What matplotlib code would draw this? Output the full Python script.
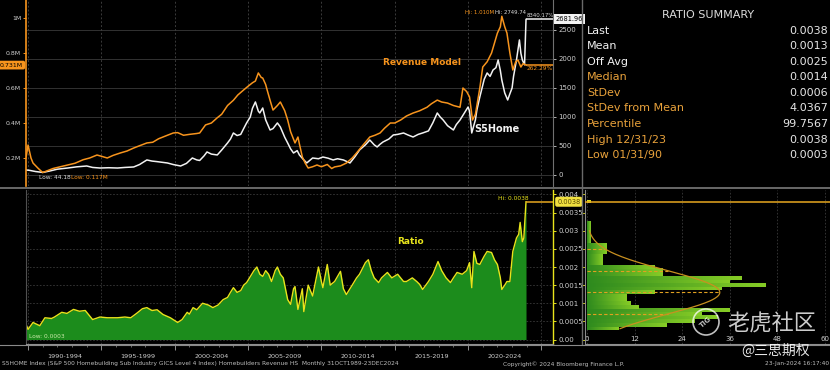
import numpy as np
import matplotlib
matplotlib.use("Agg")
import matplotlib.pyplot as plt
from matplotlib.colors import LinearSegmentedColormap
from matplotlib.lines import Line2D
from matplotlib.patches import Ellipse

plt.rcParams["font.family"] = ["DejaVu Sans", "Noto Sans CJK SC"]

# * Data
# Revenue model, millions (left axis, orange)
rev_years = [1989.87, 1990.0, 1990.2, 1990.34, 1990.7, 1991.0, 1991.7, 1992.2, 1992.7, 1993.2,
             1993.75, 1994.2, 1994.7, 1995.0, 1995.4, 1995.8, 1996.3, 1996.75, 1997.2, 1997.6,
             1998.1, 1998.5, 1998.9, 1999.2, 1999.5, 1999.9, 2000.2, 2000.6, 2001.0, 2001.5,
             2001.7, 2002.1, 2002.5, 2002.9, 2003.2, 2003.6, 2004.0, 2004.3, 2004.7, 2005.0,
             2005.3, 2005.5, 2005.7, 2005.9, 2006.0, 2006.2, 2006.3, 2006.5, 2006.7, 2007.0,
             2007.2, 2007.5, 2007.7, 2007.9, 2008.2, 2008.4, 2008.5, 2008.7, 2008.9, 2009.1,
             2009.4, 2009.7, 2010.0, 2010.4, 2010.7, 2010.9, 2011.3, 2011.7, 2012.1, 2012.4,
             2012.8, 2013.3, 2013.65, 2014.0, 2014.3, 2014.7, 2015.0, 2015.4, 2015.8, 2016.25,
             2016.7, 2017.2, 2017.5, 2017.9, 2018.2, 2018.6, 2019.0, 2019.45, 2019.65, 2019.9,
             2020.1, 2020.3, 2020.5, 2020.6, 2020.8, 2021.0, 2021.3, 2021.6, 2022.0, 2022.2,
             2022.3, 2022.5, 2022.65, 2022.85, 2023.05, 2023.25, 2023.4, 2023.6, 2023.75, 2023.95]
rev_values = [0.206, 0.274, 0.20, 0.171, 0.14, 0.117, 0.14, 0.15, 0.16, 0.17,
              0.19, 0.20, 0.217, 0.21, 0.20, 0.215, 0.229, 0.24, 0.257, 0.27,
              0.286, 0.29, 0.31, 0.32, 0.33, 0.343, 0.345, 0.33, 0.335, 0.34,
              0.343, 0.389, 0.40, 0.43, 0.45, 0.50, 0.53, 0.56, 0.589, 0.61,
              0.63, 0.64, 0.686, 0.66, 0.657, 0.62, 0.589, 0.53, 0.474, 0.50,
              0.52, 0.47, 0.417, 0.35, 0.286, 0.32, 0.28, 0.206, 0.17, 0.143,
              0.15, 0.16, 0.15, 0.163, 0.14, 0.149, 0.155, 0.171, 0.20, 0.229,
              0.27, 0.32, 0.33, 0.343, 0.37, 0.40, 0.40, 0.417, 0.44, 0.457,
              0.47, 0.49, 0.51, 0.531, 0.52, 0.514, 0.50, 0.49, 0.60, 0.58,
              0.549, 0.417, 0.45, 0.50, 0.60, 0.72, 0.75, 0.80, 0.914, 0.95,
              1.010, 0.95, 0.914, 0.80, 0.703, 0.75, 0.76, 0.72, 0.74, 0.731]

# S5HOME index (right axis, white)
idx_years = [1989.87, 1990.1, 1990.5, 1991.0, 1991.5, 1992.0, 1992.7, 1993.3, 1994.0, 1994.4,
             1994.9, 1995.5, 1996.1, 1996.6, 1997.2, 1997.6, 1998.1, 1998.45, 1998.8, 1999.1,
             1999.5, 1999.9, 2000.4, 2000.8, 2001.2, 2001.5, 2001.7, 2002.0, 2002.2, 2002.5,
             2002.9, 2003.2, 2003.6, 2003.8, 2004.0, 2004.25, 2004.5, 2004.7, 2004.9, 2005.15,
             2005.3, 2005.5, 2005.7, 2005.8, 2006.0, 2006.2, 2006.5, 2006.7, 2007.0, 2007.2,
             2007.5, 2007.7, 2007.9, 2008.1, 2008.35, 2008.5, 2008.8, 2009.0, 2009.2, 2009.4,
             2009.8, 2010.1, 2010.45, 2010.8, 2011.1, 2011.5, 2011.75, 2011.95, 2012.3, 2012.6,
             2013.0, 2013.3, 2013.6, 2013.8, 2014.0, 2014.2, 2014.6, 2014.9, 2015.2, 2015.6,
             2015.9, 2016.25, 2016.6, 2016.9, 2017.3, 2017.6, 2017.9, 2018.1, 2018.3, 2018.6,
             2019.0, 2019.2, 2019.45, 2019.7, 2020.0, 2020.1, 2020.25, 2020.5, 2020.6, 2020.8,
             2021.1, 2021.3, 2021.5, 2021.7, 2021.9, 2022.05, 2022.2, 2022.3, 2022.5, 2022.7,
             2022.85, 2023.0, 2023.1, 2023.3, 2023.5, 2023.6, 2023.7, 2023.85, 2023.95]
idx_values = [86, 80, 60, 44.18, 70, 100, 120, 140, 155, 130,
              120, 125, 120, 130, 138, 180, 259, 240, 230, 220,
              207, 180, 155, 200, 293, 260, 250, 330, 397, 360,
              345, 430, 552, 620, 724, 680, 700, 800, 897, 1000,
              1150, 1259, 1100, 1069, 1155, 950, 776, 800, 897, 828,
              650, 552, 450, 379, 420, 345, 260, 207, 250, 293,
              280, 310, 290, 259, 280, 259, 230, 207, 320, 431,
              520, 603, 520, 483, 530, 569, 620, 690, 700, 724,
              690, 655, 700, 724, 760, 900, 1069, 1000, 948, 850,
              776, 870, 948, 1050, 1172, 1100, 724, 950, 1121, 1345,
              1650, 1759, 1700, 1810, 1850, 1983, 1800, 1638, 1414, 1293,
              1400, 1500, 1700, 1983, 2328, 2100, 1983, 1900, 2681.96]

# Ratio (bottom panel)
ratio_years = [1989.87, 1990.0, 1990.34, 1990.8, 1991.15, 1991.6, 1991.8, 1992.3, 1992.65, 1993.1,
               1993.5, 1993.9, 1994.4, 1994.9, 1995.4, 1996.1, 1996.6, 1997.0, 1997.4, 1997.8,
               1998.1, 1998.45, 1998.8, 1999.2, 1999.7, 2000.2, 2000.5, 2000.85, 2001.0, 2001.25,
               2001.5, 2001.9, 2002.3, 2002.6, 2002.95, 2003.3, 2003.6, 2003.8, 2004.0, 2004.25,
               2004.5, 2004.7, 2004.9, 2005.1, 2005.4, 2005.6, 2005.8, 2006.0, 2006.2, 2006.4,
               2006.6, 2006.85, 2007.0, 2007.2, 2007.4, 2007.6, 2007.7, 2007.9, 2008.1, 2008.2,
               2008.4, 2008.7, 2008.8, 2009.1, 2009.4, 2009.8, 2010.0, 2010.1, 2010.4, 2010.6,
               2010.9, 2011.3, 2011.5, 2011.7, 2012.1, 2012.4, 2012.6, 2013.0, 2013.2, 2013.4,
               2013.6, 2013.9, 2014.1, 2014.5, 2014.8, 2015.2, 2015.6, 2015.8, 2016.2, 2016.5,
               2016.7, 2016.9, 2017.3, 2017.6, 2017.95, 2018.2, 2018.5, 2018.8, 2019.0, 2019.25,
               2019.6, 2019.9, 2020.1, 2020.25, 2020.4, 2020.6, 2020.8, 2021.1, 2021.3, 2021.6,
               2021.8, 2022.0, 2022.2, 2022.3, 2022.5, 2022.65, 2022.85, 2023.05, 2023.3, 2023.45,
               2023.55, 2023.7, 2023.8, 2023.95]
ratio_values = [0.00041, 0.00028, 0.00047, 0.00038, 0.00060, 0.00058, 0.00062, 0.00075, 0.00072, 0.00083,
                0.00078, 0.00080, 0.00055, 0.00062, 0.00060, 0.00060, 0.00062, 0.00060, 0.00072, 0.00085,
                0.00088, 0.00080, 0.00082, 0.00069, 0.00060, 0.00047, 0.00055, 0.00075, 0.00070, 0.00088,
                0.00082, 0.00100, 0.00095, 0.00088, 0.00095, 0.00110, 0.00116, 0.00130, 0.00143, 0.00130,
                0.00135, 0.00150, 0.00157, 0.00170, 0.00190, 0.00200, 0.00180, 0.00174, 0.00190, 0.00180,
                0.00160, 0.00190, 0.00200, 0.00180, 0.00170, 0.00130, 0.00110, 0.00097, 0.00140, 0.00146,
                0.00083, 0.00140, 0.00077, 0.00150, 0.00120, 0.00200, 0.00160, 0.00143, 0.00207, 0.00150,
                0.00160, 0.00188, 0.00140, 0.00124, 0.00150, 0.00170, 0.00180, 0.00212, 0.00220, 0.00190,
                0.00170, 0.00157, 0.00170, 0.00185, 0.00170, 0.00180, 0.00160, 0.00160, 0.00170, 0.00160,
                0.00152, 0.00138, 0.00160, 0.00180, 0.00215, 0.00190, 0.00170, 0.00157, 0.00170, 0.00185,
                0.00180, 0.00190, 0.00212, 0.00143, 0.00243, 0.00210, 0.00207, 0.00230, 0.00243, 0.00240,
                0.00220, 0.00207, 0.00170, 0.00138, 0.00150, 0.00160, 0.00160, 0.00243, 0.00280, 0.00290,
                0.00323, 0.00270, 0.00280, 0.0038]

# Histogram of the ratio (bin centres 0.0003 .. 0.0038)
hist_start = 0.0003
hist_step = 0.0001
hist_counts = [8, 20, 27, 33, 29, 36, 13, 11, 10, 10,
               17, 34, 45, 36, 39, 19, 19, 17, 4, 4,
               4, 5, 5, 5, 1, 1, 1, 1, 1, 1,
               0, 0, 0, 0, 0, 1]
curve_peak = 33.5

# Summary box
summary_labels = ["Last", "Mean", "Off Avg", "Median", "StDev", "StDev from Mean",
                  "Percentile", "High 12/31/23", "Low 01/31/90"]
summary_values = ["0.0038", "0.0013", "0.0025", "0.0014", "0.0006", "4.0367",
                  "99.7567", "0.0038", "0.0003"]
mean_val = float(summary_values[1])
sd_val = float(summary_values[4])

period_labels = ["1990-1994", "1995-1999", "2000-2004", "2005-2009",
                 "2010-2014", "2015-2019", "2020-2024"]

# * Colours
BG = "black"
ORANGE = "#f7941d"
WHITE = "#f2f2f2"
YELLOW = "#e8e41c"
GREEN = "#1c8c1c"
GRID = "#3a3a3a"
TXT = "#cfcfcf"

W, H = 830, 370
def fx(px):
    return px / W
def fy(py):
    return 1 - py / H

fig = plt.figure(figsize=(8.3, 3.7), dpi=100, facecolor=BG)

XMIN, XMAX = 1989.86, 2025.79
boundaries = list(range(1990, 2030, 5))

# * Top panel: S5HOME (right axis) + revenue model (left axis)
top_rect = [fx(26), fy(186), fx(553) - fx(26), fy(0) - fy(186)]
ax_w = fig.add_axes(top_rect, facecolor=BG)
ax_o = fig.add_axes(top_rect, facecolor="none")

ax_w.plot(idx_years, idx_values, color=WHITE, lw=1.1)
ax_w.hlines(idx_values[-1], idx_years[-1], XMAX, color=WHITE, lw=1.1)
ax_w.set_xlim(XMIN, XMAX)
ax_w.set_ylim(-190, 3017)
ax_w.yaxis.tick_right()
ax_w.set_yticks(range(0, 3000, 500))
ax_w.tick_params(axis="y", colors=TXT, labelsize=5, length=2.5, width=0.6, pad=1.5)
ax_w.set_xticks(boundaries)
ax_w.tick_params(axis="x", length=0, labelbottom=False)
ax_w.grid(axis="y", color=GRID, lw=0.6)
ax_w.grid(axis="x", color=GRID, lw=0.7, ls=(0, (2, 2)))
for s in ["top", "left", "bottom"]:
    ax_w.spines[s].set_visible(False)
ax_w.spines["right"].set_color("#707070")

ax_o.plot(rev_years, rev_values, color=ORANGE, lw=1.1)
ax_o.hlines(rev_values[-1], rev_years[-1], XMAX, color=ORANGE, lw=1.1)
ax_o.set_xlim(XMIN, XMAX)
ax_o.set_ylim(0.04, 1.103)
ax_o.set_yticks([0.2, 0.4, 0.6, 0.8, 1.0])
ax_o.set_yticklabels(["0.2M", "0.4M", "0.6M", "0.8M", "1M"])
ax_o.tick_params(axis="y", colors=ORANGE, labelcolor=TXT, labelsize=4.5, length=2.5, width=0.7, pad=1)
ax_o.set_xticks([])
for s in ["top", "right", "bottom"]:
    ax_o.spines[s].set_visible(False)
ax_o.spines["left"].set_color(ORANGE)
ax_o.spines["left"].set_linewidth(1.2)

# last value tags
ax_o.annotate(f"{rev_values[-1]:.3f}M", xy=(0, rev_values[-1]), xycoords=("axes fraction", "data"),
              xytext=(-2, 0), textcoords="offset points", ha="right", va="center",
              fontsize=4.5, color="black", annotation_clip=False,
              bbox=dict(boxstyle="round,pad=0.3", fc=ORANGE, ec="none"))
ax_w.annotate(f"{idx_values[-1]:.2f}", xy=(1, idx_values[-1]), xycoords=("axes fraction", "data"),
              xytext=(2, 0), textcoords="offset points", ha="left", va="center",
              fontsize=4.8, color="black", annotation_clip=False,
              bbox=dict(boxstyle="square,pad=0.3", fc=WHITE, ec="none"))

# hi / low notes
ax_o.text(2019.8, 1.034, f"Hi: {max(rev_values):.3f}M", color=ORANGE, fontsize=3.9, va="center")
ax_o.text(2021.85, 1.034, "Hi: 2749.74", color="#dcdcdc", fontsize=3.9, va="center")
ax_o.text(2024.0, 1.012, "8340.17%", color="#dcdcdc", fontsize=3.9, va="center")
ax_o.text(2024.0, 0.709, "262.29%", color=ORANGE, fontsize=4.2, va="center")
ax_o.text(1990.75, 0.086, f"Low: {min(idx_values):.2f}", color="#dcdcdc", fontsize=4.2, va="center")
ax_o.text(1992.9, 0.086, f"Low: {min(rev_values):.3f}M", color=ORANGE, fontsize=4.2, va="center")

ax_o.text(2016.86, 0.743, "Revenue Model", color=ORANGE, fontsize=6.5, fontweight="bold",
          ha="center", va="center")
ax_o.text(2021.97, 0.366, "S5Home", color=WHITE, fontsize=7, fontweight="bold",
          ha="center", va="center")

# * Bottom panel: ratio
bot_rect = [fx(26), fy(344), fx(553) - fx(26), fy(190) - fy(344)]
ax_b = fig.add_axes(bot_rect, facecolor=BG)
ax_b.fill_between(ratio_years, ratio_values, 0, color=GREEN, lw=0)
ax_b.plot(ratio_years, ratio_values, color=YELLOW, lw=1.0)
ax_b.hlines(ratio_values[-1], ratio_years[-1], XMAX, color="#e8a820", lw=1.1)
ax_b.set_xlim(XMIN, XMAX)
ax_b.set_ylim(-0.000124, 0.004124)
ax_b.yaxis.tick_right()
yt = [0, 0.0005, 0.001, 0.0015, 0.002, 0.0025, 0.003, 0.0035, 0.004]
ax_b.set_yticks(yt)
ax_b.set_yticklabels(["0.00", "0.0005", "0.001", "0.0015", "0.002", "0.0025", "0.003", "0.0035", "0.004"])
ax_b.tick_params(axis="y", colors=YELLOW, labelcolor=TXT, labelsize=5, length=2.5, width=0.7, pad=1.5)
ax_b.set_xticks(boundaries)
ax_b.set_xticks(range(1990, 2026), minor=True)
ax_b.tick_params(axis="x", which="major", colors="#909090", length=4, width=0.7, labelbottom=False)
ax_b.tick_params(axis="x", which="minor", colors="#909090", length=2, width=0.5)
ax_b.grid(axis="both", color=GRID, lw=0.6, ls=(0, (2, 2)))
ax_b.set_axisbelow(True)
ax_b.spines["top"].set_visible(False)
ax_b.spines["left"].set_color("#505050")
ax_b.spines["bottom"].set_color("#909090")
ax_b.spines["right"].set_color(YELLOW)
ax_b.spines["right"].set_linewidth(1.0)
for i, lab in enumerate(period_labels):
    ax_b.text(boundaries[i] + 2.5, -0.078, lab, transform=ax_b.get_xaxis_transform(),
              ha="center", va="center", fontsize=4.6, color=TXT)

ax_b.annotate(summary_values[0], xy=(1, ratio_values[-1]), xycoords=("axes fraction", "data"),
              xytext=(3, 0), textcoords="offset points", ha="left", va="center",
              fontsize=4.8, color="#5a4a00", annotation_clip=False, zorder=10,
              bbox=dict(boxstyle="round,pad=0.3", fc="#f0e040", ec="none"))
ax_b.text(2022.04, 0.0039, f"Hi: {max(ratio_values):.4f}", color=YELLOW, fontsize=4.2, va="center")
ax_b.text(1990.07, 0.00007, f"Low: {min(ratio_values):.4f}", color="#c8e8a8", fontsize=4.2, va="center")
ax_b.text(2016.1, 0.0027, "Ratio", color=YELLOW, fontsize=6.5, fontweight="bold",
          ha="center", va="center")

# * Histogram panel
hist_rect = [fx(585), fy(344), fx(830) - fx(585), fy(190) - fy(344)]
ax_h = fig.add_axes(hist_rect, facecolor=BG)
centers = [hist_start + i * hist_step for i in range(len(hist_counts))]
gcmap = LinearSegmentedColormap.from_list("g", ["#2e8a1e", "#86cc26"])
grad = np.linspace(0, 1, 64).reshape(1, -1)
for c, n in zip(centers, hist_counts):
    if n == 0:
        continue
    if abs(c - ratio_values[-1]) < hist_step / 2:
        ax_h.barh(c, n, height=hist_step * 0.9, color="#d8e020", zorder=2)
        continue
    ax_h.imshow(grad, cmap=gcmap, aspect="auto", zorder=2,
                extent=(0, n, c - hist_step * 0.45, c + hist_step * 0.45))

yy = np.linspace(hist_start, 0.0030, 200)
curve = curve_peak * np.exp(-0.5 * ((yy - mean_val) / sd_val) ** 2)
ax_h.plot(curve, yy, color="#c89020", lw=0.9, zorder=4)
for k in [-1, 0, 1, 2]:
    lvl = mean_val + k * sd_val
    ax_h.hlines(lvl, 0, curve_peak * np.exp(-0.5 * k ** 2), color="#e0a020",
                lw=0.8, ls=(0, (3, 2)), zorder=3)
ax_h.axhline(ratio_values[-1], color="#e8a820", lw=1.1, zorder=3)

ax_h.set_xlim(-0.5, 61.3)
ax_h.set_ylim(-0.000124, 0.004124)
ax_h.set_xticks([0, 12, 24, 36, 48, 60])
ax_h.tick_params(axis="x", direction="in", length=0, pad=-6, labelsize=5, labelcolor=TXT)
ax_h.set_yticks(yt)
ax_h.tick_params(axis="y", colors=YELLOW, length=2, width=0.6, labelleft=False)
ax_h.grid(axis="x", color=GRID, lw=0.6, ls=(0, (2, 2)))
ax_h.set_axisbelow(True)
for s in ["top", "right"]:
    ax_h.spines[s].set_visible(False)
ax_h.spines["left"].set_color("#8a8a8a")
ax_h.spines["bottom"].set_color("#909090")

# * Summary box
fig.text(fx(708), fy(15), "RATIO SUMMARY", color="#dcdcdc", fontsize=8, ha="center", va="center")
for i, (lab, val) in enumerate(zip(summary_labels, summary_values)):
    ypx = 30.7 + i * 15.55
    lab_col = "#f2f2f2" if i < 3 else "#e9a23b"
    fig.text(fx(587), fy(ypx), lab, color=lab_col, fontsize=8, ha="left", va="center")
    fig.text(fx(828), fy(ypx), val, color="#e6e6e6", fontsize=8, ha="right", va="center")

# * Frame lines
fig.add_artist(Line2D([0, 1], [fy(188), fy(188)], color="#7a7a7a", lw=1.2))
fig.add_artist(Line2D([fx(582), fx(582)], [fy(344), 1], color="#6a6a6a", lw=1.0))
fig.add_artist(Line2D([0, 1], [fy(344.5), fy(344.5)], color="#8a8a8a", lw=0.8))

# * Footer
fig.text(fx(2), fy(364), "S5HOME Index (S&P 500 Homebuilding Sub Industry GICS Level 4 Index) "
         "Homebuilders Revenue HS  Monthly 31OCT1989-23DEC2024",
         color="#bdbdbd", fontsize=4.2, ha="left", va="center")
fig.text(fx(564), fy(364), "Copyright\u00a9 2024 Bloomberg Finance L.P.", color="#bdbdbd",
         fontsize=4.2, ha="center", va="center")
fig.text(fx(829), fy(364), "23-Jan-2024 16:17:40", color="#bdbdbd", fontsize=4.2,
         ha="right", va="center")

# * Watermark
fig.add_artist(Ellipse((fx(706), fy(322)), 26 / W, 26 / H, transform=fig.transFigure,
                       fill=False, ec="white", lw=1.2, alpha=0.75))
fig.text(fx(706), fy(322), "TIG", color="white", alpha=0.75, fontsize=5, rotation=40,
         ha="center", va="center", fontweight="bold")
fig.text(fx(772), fy(324), "老虎社区", color="white", alpha=0.8, fontsize=16,
         family=["Noto Sans CJK SC", "DejaVu Sans"], ha="center", va="center")
fig.text(fx(776), fy(351), "@三思期权", color="white", alpha=0.9, fontsize=10,
         family=["Noto Sans CJK SC", "DejaVu Sans"], ha="center", va="center")

fig.savefig("out.png", dpi=100, facecolor=BG)
